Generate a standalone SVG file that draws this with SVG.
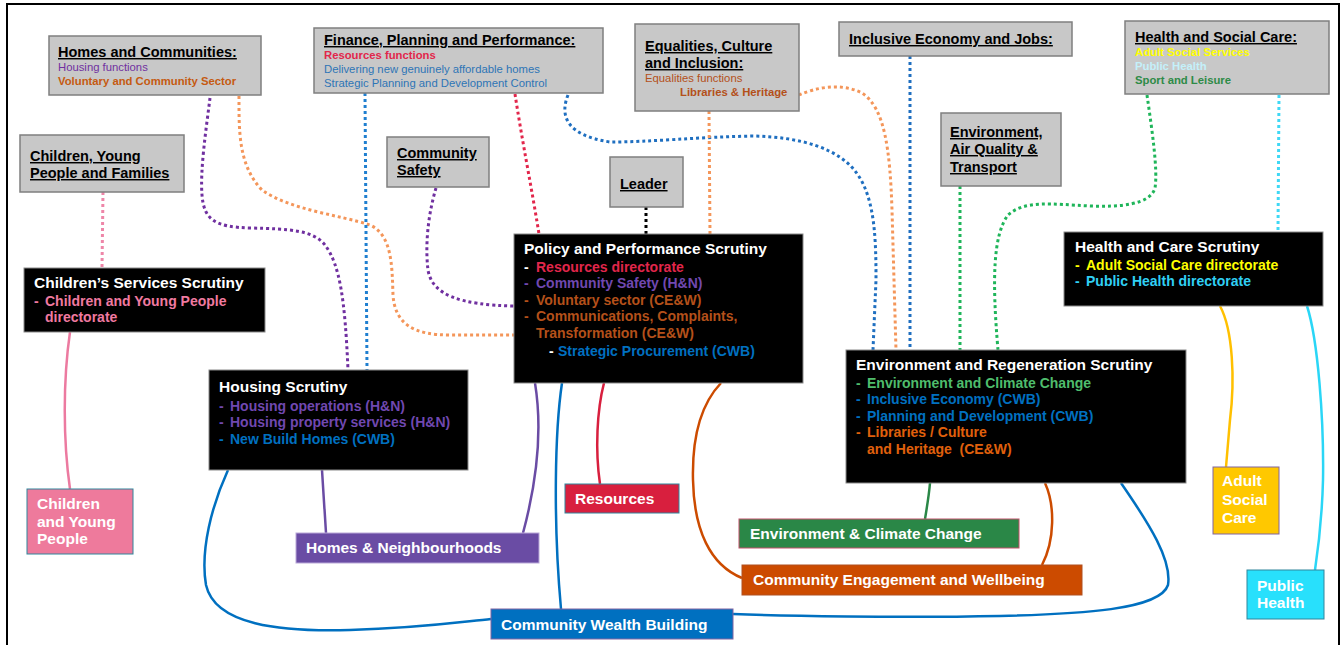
<svg xmlns="http://www.w3.org/2000/svg" width="1342" height="645" viewBox="0 0 1342 645">
<style>
text{font-family:"Liberation Sans",Arial,sans-serif;}
.gbox{fill:#c8c8c8;stroke:#7f7f7f;stroke-width:1.5;}
.bbox{fill:#000;stroke:#8a8a8a;stroke-width:1;}
.gt{font-size:14.5px;font-weight:bold;fill:#000;text-decoration:underline;}
.gs{font-size:11.3px;}
.gb{font-size:11.3px;font-weight:bold;}
.bt{font-size:15.5px;font-weight:bold;fill:#fff;}
.bi{font-size:14px;font-weight:bold;white-space:pre;}
.lt{font-size:15.5px;font-weight:bold;fill:#fff;}
.dot{fill:none;stroke-width:3;stroke-dasharray:3 3;}
.sol{fill:none;stroke-width:2.5;}
</style>
<rect x="7" y="4" width="1332" height="660" fill="#fff" stroke="#000" stroke-width="2"/>
<g id="connectors">
<path class="dot" stroke="#7030a0" d="M210,98 C206,130 200,170 202,195 C204,220 215,227 250,228 C290,229 313,230 325,245 C340,265 345,300 348,370"/>
<path class="dot" stroke="#f4965a" d="M239,96 C239,130 238,165 262,190 C290,210 340,215 370,225 C392,235 392,265 393,295 C395,325 415,335 450,335 L514,335"/>
<path class="dot" stroke="#1f7fd0" d="M365,93 L367,370"/>
<path class="dot" stroke="#e2264b" d="M515,94 C522,140 532,190 539,234"/>
<path class="dot" stroke="#1f6fc0" d="M568,95 C560,115 565,135 610,142 C650,142 700,137 753,136 C800,137 840,148 858,175 C875,200 876,240 876,280 L873,350"/>
<path class="dot" stroke="#f4965a" d="M709,111 L710,234"/>
<path class="dot" stroke="#f4965a" d="M799,95 C815,88 840,82 862,93 C885,108 890,150 892,210 L896,350"/>
<path class="dot" stroke="#1f6fc0" d="M910,56 L910,350"/>
<path class="dot" stroke="#1fb55a" d="M960,186 L960,350"/>
<path class="dot" stroke="#1fb55a" d="M1147,95 C1152,130 1158,170 1155,188 C1150,205 1120,207 1090,206 C1050,204 1025,200 1008,215 C993,235 992,280 998,350"/>
<path class="dot" stroke="#3fd8f5" d="M1279,95 L1278,232"/>
<path class="dot" stroke="#ee86a8" d="M103,192 L102,268"/>
<path class="dot" stroke="#7030a0" d="M436,188 C428,215 425,245 428,270 C432,295 460,305 514,306"/>
<path class="dot" stroke="#000" d="M646,207 L646,234"/>
<path class="sol" stroke="#ec7aa0" d="M70,332 C63,380 63,440 70,489"/>
<path class="sol" stroke="#0070c0" d="M228,470 C212,505 200,550 206,585 C215,625 280,632 350,630 C420,628 460,622 491,619"/>
<path class="sol" stroke="#6a4ca4" d="M322,470 L326,533"/>
<path class="sol" stroke="#6a4ca4" d="M535,383 C541,420 540,470 523,533"/>
<path class="sol" stroke="#0070c0" d="M562,383 C555,430 553,520 561,609"/>
<path class="sol" stroke="#d81f3e" d="M604,383 C597,410 595,450 600,484"/>
<path class="sol" stroke="#cc4b00" d="M721,383 C700,405 692,440 693,480 C694,530 710,565 742,578"/>
<path class="sol" stroke="#2a8747" d="M930,483 C929,495 927,507 925,519"/>
<path class="sol" stroke="#cc4b00" d="M1045,483 C1055,505 1055,540 1042,565"/>
<path class="sol" stroke="#0070c0" d="M1121,483 C1150,525 1172,560 1168,585 C1160,610 1080,614 1000,616 C900,618 780,616 733,614"/>
<path class="sol" stroke="#ffc000" d="M1220,306 C1233,330 1235,380 1230,420 L1226,467"/>
<path class="sol" stroke="#2ad6f6" d="M1307,306 C1318,340 1324,420 1323,480 C1322,520 1318,550 1315,570"/>
</g>
<g id="homes-communities">
<rect class="gbox" x="49" y="36" width="212" height="59"/>
<text class="gt" x="58" y="57">Homes and Communities:</text>
<text class="gs" x="58" y="71" fill="#7030a0">Housing functions</text>
<text class="gb" x="58" y="85" fill="#c55a11">Voluntary and Community Sector</text>
</g>
<g id="children-young-people-families">
<rect class="gbox" x="20" y="135" width="164" height="57"/>
<text class="gt" x="30" y="161">Children, Young</text>
<text class="gt" x="30" y="178">People and Families</text>
</g>
<g id="finance-planning">
<rect class="gbox" x="314" y="28" width="289" height="65"/>
<text class="gt" x="324" y="45">Finance, Planning and Performance:</text>
<text class="gb" x="324" y="59" fill="#e2264b">Resources functions</text>
<text class="gs" x="324" y="73" fill="#2e75b6">Delivering new genuinely affordable homes</text>
<text class="gs" x="324" y="87" fill="#2e75b6">Strategic Planning and Development Control</text>
</g>
<g id="community-safety">
<rect class="gbox" x="387" y="137" width="102" height="50"/>
<text class="gt" x="397" y="158">Community</text>
<text class="gt" x="397" y="175">Safety</text>
</g>
<g id="leader">
<rect class="gbox" x="610" y="157" width="73" height="50"/>
<text class="gt" x="620" y="189">Leader</text>
</g>
<g id="equalities">
<rect class="gbox" x="635" y="24" width="164" height="87"/>
<text class="gt" x="645" y="51">Equalities, Culture</text>
<text class="gt" x="645" y="68">and Inclusion:</text>
<text class="gs" x="645" y="82" fill="#b4501a">Equalities functions</text>
<text class="gb" x="680" y="96" fill="#b4501a">Libraries &amp; Heritage</text>
</g>
<g id="inclusive-economy">
<rect class="gbox" x="839" y="22" width="233" height="34"/>
<text class="gt" x="849" y="44">Inclusive Economy and Jobs:</text>
</g>
<g id="environment-air-quality">
<rect class="gbox" x="941" y="113" width="120" height="73"/>
<text class="gt" x="950" y="137">Environment,</text>
<text class="gt" x="950" y="154">Air Quality &amp;</text>
<text class="gt" x="950" y="172">Transport</text>
</g>
<g id="health-social-care">
<rect class="gbox" x="1125" y="21" width="204" height="73"/>
<text class="gt" x="1135" y="42">Health and Social Care:</text>
<text class="gb" x="1135" y="56" fill="#ffff00">Adult Social Services</text>
<text class="gb" x="1135" y="70" fill="#c4f0fa">Public Health</text>
<text class="gb" x="1135" y="84" fill="#2e8b47">Sport and Leisure</text>
</g>
<g id="childrens-services-scrutiny">
<rect class="bbox" x="24" y="268" width="241" height="64"/>
<text class="bt" x="34" y="288">Children’s Services Scrutiny</text>
<text class="bi" x="34" y="306" fill="#f07aa0">-</text>
<text class="bi" x="45" y="306" fill="#f07aa0">Children and Young People</text>
<text class="bi" x="45" y="322" fill="#f07aa0">directorate</text>
</g>
<g id="housing-scrutiny">
<rect class="bbox" x="209" y="370" width="259" height="100"/>
<text class="bt" x="219" y="392">Housing Scrutiny</text>
<text class="bi" x="219" y="411" fill="#7048b0">-</text>
<text class="bi" x="230" y="411" fill="#7048b0">Housing operations (H&amp;N)</text>
<text class="bi" x="219" y="427" fill="#7048b0">-</text>
<text class="bi" x="230" y="427" fill="#7048b0">Housing property services (H&amp;N)</text>
<text class="bi" x="219" y="444" fill="#0070c0">-</text>
<text class="bi" x="230" y="444" fill="#0070c0">New Build Homes (CWB)</text>
</g>
<g id="policy-performance-scrutiny">
<rect class="bbox" x="514" y="234" width="289" height="149"/>
<text class="bt" x="524" y="254">Policy and Performance Scrutiny</text>
<text class="bi" x="524" y="272" fill="#fff">-</text>
<text class="bi" x="536" y="272" fill="#e2264b">Resources directorate</text>
<text class="bi" x="524" y="288" fill="#7048b0">-</text>
<text class="bi" x="536" y="288" fill="#7048b0">Community Safety (H&amp;N)</text>
<text class="bi" x="524" y="305" fill="#b4501a">-</text>
<text class="bi" x="536" y="305" fill="#b4501a">Voluntary sector (CE&amp;W)</text>
<text class="bi" x="524" y="321" fill="#b4501a">-</text>
<text class="bi" x="536" y="321" fill="#b4501a">Communications, Complaints,</text>
<text class="bi" x="536" y="338" fill="#b4501a">Transformation (CE&amp;W)</text>
<text class="bi" x="549" y="356" fill="#fff">-</text>
<text class="bi" x="558" y="356" fill="#0070c0">Strategic Procurement (CWB)</text>
</g>
<g id="health-care-scrutiny">
<rect class="bbox" x="1064" y="232" width="259" height="74"/>
<text class="bt" x="1075" y="252">Health and Care Scrutiny</text>
<text class="bi" x="1075" y="270" fill="#ffff00">-</text>
<text class="bi" x="1086" y="270" fill="#ffff00">Adult Social Care directorate</text>
<text class="bi" x="1075" y="286" fill="#30d0f5">-</text>
<text class="bi" x="1086" y="286" fill="#30d0f5">Public Health directorate</text>
</g>
<g id="environment-regeneration-scrutiny">
<rect class="bbox" x="846" y="350" width="340" height="133"/>
<text class="bt" x="856" y="370">Environment and Regeneration Scrutiny</text>
<text class="bi" x="856" y="388" fill="#4fbd6c">-</text>
<text class="bi" x="867" y="388" fill="#4fbd6c">Environment and Climate Change</text>
<text class="bi" x="856" y="404" fill="#0070c0">-</text>
<text class="bi" x="867" y="404" fill="#0070c0">Inclusive Economy (CWB)</text>
<text class="bi" x="856" y="421" fill="#0070c0">-</text>
<text class="bi" x="867" y="421" fill="#0070c0">Planning and Development (CWB)</text>
<text class="bi" x="856" y="437" fill="#e0600c">-</text>
<text class="bi" x="867" y="437" fill="#e0600c">Libraries / Culture</text>
<text class="bi" x="867" y="454" fill="#e0600c">and Heritage  (CE&amp;W)</text>
</g>
<g id="children-young-people">
<rect x="27" y="489" width="106" height="65" fill="#ee7a9c" stroke="#31859c" stroke-width="1"/>
<text class="lt" x="37" y="509">Children</text>
<text class="lt" x="37" y="527">and Young</text>
<text class="lt" x="37" y="544">People</text>
</g>
<g id="homes-neighbourhoods">
<rect x="296" y="533" width="243" height="30" fill="#6a4ca4" stroke="#b9a8d8" stroke-width="1"/>
<text class="lt" x="306" y="553">Homes &amp; Neighbourhoods</text>
</g>
<g id="resources">
<rect x="565" y="484" width="114" height="29" fill="#d81f3e" stroke="#31859c" stroke-width="1"/>
<text class="lt" x="575" y="504">Resources</text>
</g>
<g id="environment-climate-change">
<rect x="739" y="519" width="280" height="29" fill="#2a8747" stroke="#c0506a" stroke-width="1"/>
<text class="lt" x="750" y="539">Environment &amp; Climate Change</text>
</g>
<g id="community-engagement-wellbeing">
<rect x="742" y="565" width="340" height="30" fill="#cc4b00" stroke="#b05020" stroke-width="1"/>
<text class="lt" x="753" y="585">Community Engagement and Wellbeing</text>
</g>
<g id="community-wealth-building">
<rect x="491" y="609" width="242" height="30" fill="#0070c0" stroke="#8064a2" stroke-width="1"/>
<text class="lt" x="501" y="630">Community Wealth Building</text>
</g>
<g id="adult-social-care">
<rect x="1213" y="467" width="66" height="67" fill="#ffc800" stroke="#8064a2" stroke-width="1"/>
<text class="lt" x="1222" y="486">Adult</text>
<text class="lt" x="1222" y="505">Social</text>
<text class="lt" x="1222" y="523">Care</text>
</g>
<g id="public-health">
<rect x="1247" y="570" width="77" height="49" fill="#28e0fc" stroke="#31859c" stroke-width="1"/>
<text class="lt" x="1257" y="591">Public</text>
<text class="lt" x="1257" y="608">Health</text>
</g>
</svg>
